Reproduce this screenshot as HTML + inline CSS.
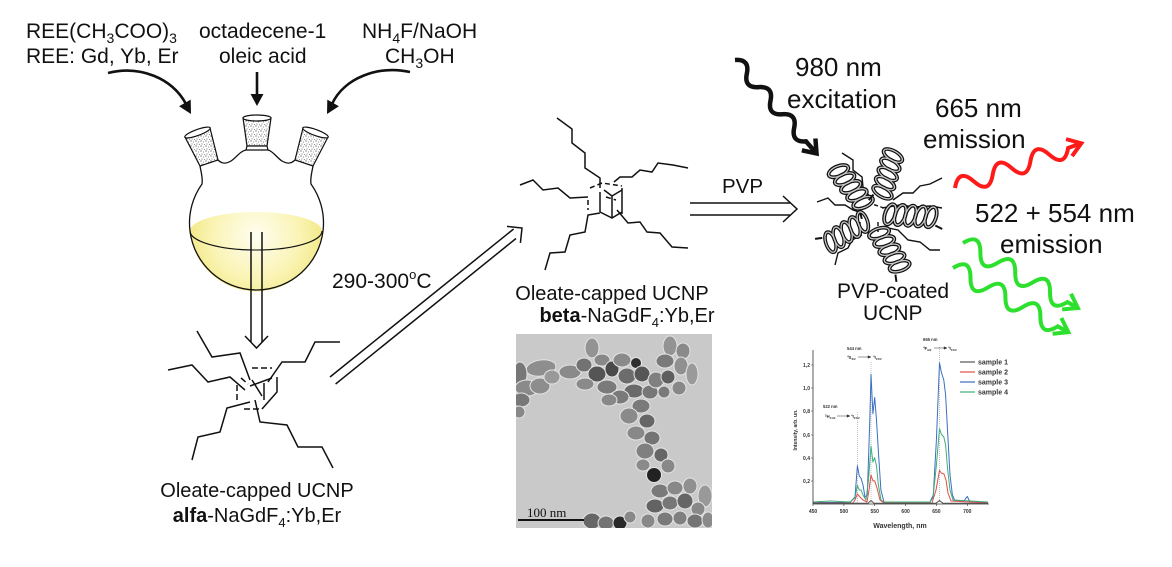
<!DOCTYPE html>
<html><head><meta charset="utf-8"><style>
html,body{margin:0;padding:0;background:#fff;width:1172px;height:567px;overflow:hidden}
svg{display:block}
</style></head><body>
<svg width="1172" height="567" viewBox="0 0 1172 567" xmlns="http://www.w3.org/2000/svg" font-family="'Liberation Sans', Arial, sans-serif">
<defs>
  <pattern id="dots" patternUnits="userSpaceOnUse" width="5" height="5">
    <rect width="5" height="5" fill="#fff"/>
    <circle cx="1" cy="1" r="0.6" fill="#444"/>
    <circle cx="3.5" cy="2" r="0.5" fill="#666"/>
    <circle cx="2" cy="4" r="0.55" fill="#555"/>
    <circle cx="4.5" cy="4.4" r="0.45" fill="#444"/>
  </pattern>
  <radialGradient id="liq" cx="256" cy="236" r="80" gradientUnits="userSpaceOnUse">
    <stop offset="0" stop-color="#fefdf0"/>
    <stop offset="0.55" stop-color="#faf4b4"/>
    <stop offset="1" stop-color="#efe272"/>
  </radialGradient>
  <clipPath id="fc"><circle cx="256" cy="225" r="66.5"/></clipPath>
  <clipPath id="tc"><rect x="516" y="334" width="196" height="194"/></clipPath>
  <g id="hx" fill="none">
    <g stroke="#111" stroke-width="3.8">
      <ellipse cx="4" cy="0" rx="5" ry="10.5" transform="rotate(15 4 0)"/>
      <ellipse cx="14" cy="0" rx="5" ry="10.5" transform="rotate(15 14 0)"/>
      <ellipse cx="24" cy="0" rx="5" ry="10.5" transform="rotate(15 24 0)"/>
      <ellipse cx="34" cy="0" rx="5" ry="10.5" transform="rotate(15 34 0)"/>
      <ellipse cx="44" cy="0" rx="5" ry="10.5" transform="rotate(15 44 0)"/>
    </g>
    <g stroke="#c8c8c8" stroke-width="1.3">
      <ellipse cx="4" cy="0" rx="5" ry="10.5" transform="rotate(15 4 0)"/>
      <ellipse cx="14" cy="0" rx="5" ry="10.5" transform="rotate(15 14 0)"/>
      <ellipse cx="24" cy="0" rx="5" ry="10.5" transform="rotate(15 24 0)"/>
      <ellipse cx="34" cy="0" rx="5" ry="10.5" transform="rotate(15 34 0)"/>
      <ellipse cx="44" cy="0" rx="5" ry="10.5" transform="rotate(15 44 0)"/>
    </g>
    <line x1="49" y1="8" x2="56" y2="11" stroke="#111" stroke-width="2"/>
  </g>
</defs>

<!-- ===== Top-left text ===== -->
<g font-size="21" fill="#111">
  <text x="26" y="38">REE(CH<tspan font-size="14" dy="5">3</tspan><tspan dy="-5">COO)</tspan><tspan font-size="14" dy="5">3</tspan></text>
  <text x="26" y="63">REE: Gd, Yb, Er</text>
  <text x="199" y="38">octadecene-1</text>
  <text x="219" y="63">oleic acid</text>
  <text x="362" y="38">NH<tspan font-size="14" dy="5">4</tspan><tspan dy="-5">F/NaOH</tspan></text>
  <text x="385" y="63">CH<tspan font-size="14" dy="5">3</tspan><tspan dy="-5">OH</tspan></text>
</g>

<!-- curved arrows -->
<g stroke="#111" stroke-width="2.6" fill="none">
  <path d="M108,73 C140,65 172,78 186,104"/>
  <path d="M410,72 C378,65 344,78 332,104"/>
  <path d="M257,72 V96"/>
</g>
<g fill="#111">
  <polygon points="191,114 190.7,99.6 179.1,106.2"/>
  <polygon points="327,114 327.3,99.6 338.9,106.2"/>
  <polygon points="250.5,94 263.5,94 257,106"/>
</g>

<!-- ===== Flask ===== -->
<g clip-path="url(#fc)">
  <ellipse cx="256" cy="231" rx="66" ry="19" fill="url(#liq)"/>
  <rect x="185" y="231" width="145" height="70" fill="url(#liq)"/>
</g>
<path d="M190,231 A66,19 0 0 0 322,231" fill="none" stroke="#111" stroke-width="1.1"/>
<g fill="none" stroke="#111" stroke-width="1.3">
  <path d="M200,166 C201,172 203,178 202,184 A67,67 0 1 0 311,184 C310,178 312,172 313,166"/>
  <path d="M218,160 C222,164 226,164 231,161 C236,158 240,151 246,150"/>
  <path d="M268,150 C273,151 277,158 282,161 C287,164 291,164 295,160"/>
</g>
<!-- stoppers -->
<g stroke="#111" stroke-width="1.2" fill="url(#dots)">
  <polygon points="185,137 210,128 218,160 200,166"/>
  <polygon points="328,137 303,128 295,160 313,166"/>
  <path d="M243,118 L247,146 L267,146 L271,118 Z"/>
  <path d="M247,146 L246,150 L268,150 L267,146 Z" fill="#fff"/>
</g>
<g stroke="#111" stroke-width="1.2" fill="#fff">
  <ellipse cx="197.5" cy="132.5" rx="13.5" ry="3" transform="rotate(-20 197.5 132.5)"/>
  <ellipse cx="315.5" cy="132.5" rx="13.5" ry="3" transform="rotate(20 315.5 132.5)"/>
  <ellipse cx="257" cy="118" rx="14" ry="3"/>
</g>
<!-- vertical double arrow -->
<g stroke="#111" stroke-width="1.5" fill="none">
  <path d="M251,232 V342 M262,232 V342"/>
  <path d="M245,336 L256.5,348 L268,336"/>
</g>

<text x="332" y="288" font-size="21" fill="#111">290-300<tspan font-size="13" dy="-9">o</tspan><tspan dy="9">C</tspan></text>

<!-- diagonal double arrow -->
<g stroke="#111" stroke-width="1.5" fill="none">
  <path d="M330,377 L513.6,229 M335.6,384 L516,238.5"/>
  <path d="M507,226.4 L522,228 L520.4,242.9"/>
</g>

<!-- ===== alfa molecule ===== -->
<g stroke="#111" stroke-width="1.5" fill="none" stroke-linejoin="miter">
  <polyline points="197,331 212,357 240,353 250,380"/>
  <polyline points="168,370 192,365 208,382 230,377 245,390"/>
  <polyline points="340,342 315,342 305,362 282,362 268,382"/>
  <polyline points="192,460 198,437 220,432 227,408 250,402"/>
  <polyline points="255,400 260,422 287,425 298,447 322,447 333,468"/>
  <path d="M252,368 H272 M237,385 V402 M244,409 H262 M241,378 L248,384" stroke-dasharray="6,3"/>
  <path d="M277,377 V392 L262,409 M250,386 L272,378 M252,380 L262,396 M264,383 V400"/>
</g>
<text x="257" y="497" font-size="20" fill="#111" text-anchor="middle">Oleate-capped UCNP</text>
<text x="257" y="522" font-size="20" fill="#111" text-anchor="middle"><tspan font-weight="bold">alfa</tspan>-NaGdF<tspan font-size="13" dy="5">4</tspan><tspan dy="-5">:Yb,Er</tspan></text>

<!-- ===== beta molecule ===== -->
<g stroke="#111" stroke-width="1.5" fill="none">
  <polyline points="557,118 572,129 572,143 585,153 585,168 600,178 600,188"/>
  <polyline points="688,168 673,165 658,163 652,172 640,170 632,177 620,177 614,182"/>
  <polyline points="520,185 533,180 543,190 558,188 570,198 588,197"/>
  <polyline points="545,270 550,253 565,252 570,235 585,232 588,215 600,213"/>
  <polyline points="617,210 628,223 640,222 647,232 660,233 672,247 688,248"/>
  <path d="M590,188 L602,183 L622,186 M588,200 V210 M606,197 L616,200" stroke-dasharray="5,3"/>
  <path d="M600,192 V212 M622,188 V214 M600,212 L612,218 L622,212 M612,196 V218 M604,190 L612,196 L622,190"/>
</g>
<text x="612" y="300" font-size="20" fill="#111" text-anchor="middle">Oleate-capped UCNP</text>
<text x="627" y="322" font-size="20" fill="#111" text-anchor="middle"><tspan font-weight="bold">beta</tspan>-NaGdF<tspan font-size="13" dy="5">4</tspan><tspan dy="-5">:Yb,Er</tspan></text>

<!-- PVP arrow -->
<text x="722" y="193" font-size="20.5" fill="#111">PVP</text>
<g stroke="#111" stroke-width="1.5" fill="none">
  <path d="M690,203 H790 M690,215 H790"/>
  <path d="M783,196 L797,209 L783,222"/>
</g>

<!-- ===== TEM image ===== -->
<rect x="516" y="334" width="196" height="194" fill="#c9c9c9"/>
<g clip-path="url(#tc)" stroke="#e4e4e4" stroke-width="1">
  <ellipse cx="541" cy="368" rx="15" ry="8" fill="#8e8e8e" transform="rotate(-8 541 368)"/>
  <ellipse cx="520" cy="374" rx="7" ry="12" fill="#777"/>
  <ellipse cx="527" cy="388" rx="12" ry="8" fill="#8a8a8a"/>
  <ellipse cx="521" cy="400" rx="9" ry="7" fill="#787878"/>
  <ellipse cx="540" cy="386" rx="10" ry="8" fill="#8d8d8d"/>
  <ellipse cx="552" cy="377" rx="8" ry="7" fill="#999"/>
  <ellipse cx="519" cy="412" rx="6" ry="6" fill="#888"/>
  <ellipse cx="592" cy="348" rx="7" ry="10" fill="#939393"/>
  <ellipse cx="570" cy="372" rx="11" ry="7" fill="#8a8a8a"/>
  <ellipse cx="584" cy="365" rx="8" ry="7" fill="#727272"/>
  <ellipse cx="597" cy="374" rx="9" ry="8" fill="#555"/>
  <ellipse cx="585" cy="384" rx="9" ry="6" fill="#8a8a8a"/>
  <ellipse cx="602" cy="360" rx="8" ry="6" fill="#888"/>
  <ellipse cx="612" cy="369" rx="7" ry="8" fill="#4a4a4a"/>
  <ellipse cx="607" cy="387" rx="10" ry="7" fill="#7a7a7a"/>
  <ellipse cx="622" cy="360" rx="9" ry="7" fill="#8a8a8a"/>
  <ellipse cx="627" cy="376" rx="9" ry="8" fill="#6c6c6c"/>
  <ellipse cx="636" cy="363" rx="5.5" ry="5.5" fill="#2e2e2e"/>
  <ellipse cx="642" cy="374" rx="8" ry="8" fill="#565656"/>
  <ellipse cx="634" cy="391" rx="10" ry="7" fill="#6a6a6a"/>
  <ellipse cx="650" cy="392" rx="8" ry="7" fill="#777"/>
  <ellipse cx="656" cy="380" rx="8" ry="8" fill="#808080"/>
  <ellipse cx="620" cy="397" rx="9" ry="7" fill="#7a7a7a"/>
  <ellipse cx="609" cy="400" rx="8" ry="6" fill="#888"/>
  <ellipse cx="670" cy="346" rx="7" ry="10" fill="#939393"/>
  <ellipse cx="683" cy="351" rx="7" ry="8" fill="#8a8a8a"/>
  <ellipse cx="665" cy="361" rx="9" ry="7" fill="#7a7a7a"/>
  <ellipse cx="681" cy="366" rx="7" ry="9" fill="#909090"/>
  <ellipse cx="692" cy="374" rx="6" ry="11" fill="#9a9a9a"/>
  <ellipse cx="668" cy="377" rx="7" ry="7" fill="#5e5e5e"/>
  <ellipse cx="679" cy="388" rx="7" ry="7" fill="#888"/>
  <ellipse cx="664" cy="392" rx="6" ry="6" fill="#7a7a7a"/>
  <ellipse cx="641" cy="406" rx="9" ry="7" fill="#7a7a7a"/>
  <ellipse cx="629" cy="416" rx="9" ry="8" fill="#8a8a8a"/>
  <ellipse cx="647" cy="421" rx="8" ry="7" fill="#666"/>
  <ellipse cx="636" cy="433" rx="9" ry="7" fill="#888"/>
  <ellipse cx="652" cy="438" rx="8" ry="7" fill="#747474"/>
  <ellipse cx="645" cy="451" rx="9" ry="8" fill="#808080"/>
  <ellipse cx="661" cy="455" rx="7" ry="7" fill="#666"/>
  <ellipse cx="643" cy="465" rx="7" ry="6" fill="#8a8a8a"/>
  <ellipse cx="668" cy="466" rx="7" ry="7" fill="#888"/>
  <ellipse cx="654" cy="475" rx="7.5" ry="7.5" fill="#222"/>
  <ellipse cx="660" cy="491" rx="9" ry="7" fill="#7a7a7a"/>
  <ellipse cx="675" cy="488" rx="8" ry="7" fill="#888"/>
  <ellipse cx="690" cy="486" rx="7" ry="8" fill="#909090"/>
  <ellipse cx="705" cy="496" rx="7" ry="11" fill="#999"/>
  <ellipse cx="655" cy="506" rx="9" ry="7" fill="#636363"/>
  <ellipse cx="670" cy="503" rx="8" ry="7" fill="#777"/>
  <ellipse cx="685" cy="501" rx="8" ry="8" fill="#666"/>
  <ellipse cx="698" cy="509" rx="7" ry="7" fill="#888"/>
  <ellipse cx="665" cy="519" rx="8" ry="7" fill="#7a7a7a"/>
  <ellipse cx="680" cy="518" rx="7" ry="7" fill="#808080"/>
  <ellipse cx="695" cy="521" rx="8" ry="7" fill="#747474"/>
  <ellipse cx="708" cy="520" rx="6" ry="8" fill="#8a8a8a"/>
  <ellipse cx="648" cy="521" rx="7" ry="7" fill="#888"/>
  <ellipse cx="592" cy="521" rx="9" ry="8" fill="#666"/>
  <ellipse cx="606" cy="523" rx="8" ry="7" fill="#747474"/>
  <ellipse cx="620" cy="523" rx="7" ry="7" fill="#2a2a2a"/>
  <ellipse cx="630" cy="517" rx="6" ry="6" fill="#888"/>
</g>
<text x="527" y="517" font-size="13" fill="#111" font-family="'Liberation Serif', serif">100 nm</text>
<line x1="518" y1="520" x2="584" y2="520" stroke="#111" stroke-width="2"/>

<!-- ===== PVP coated particle ===== -->
<g stroke="#111" stroke-width="1.4" fill="none">
  <polyline points="842,153 853,160 853,170 862,177 863,187 870,197"/>
  <polyline points="817,202 828,198 835,205 845,205 853,210 862,213"/>
  <polyline points="835,265 838,253 848,248 852,240 862,235"/>
  <polyline points="893,200 903,193 913,193 920,186 930,184 942,178"/>
  <polyline points="882,208 900,205 915,207 930,206 942,208"/>
  <polyline points="888,228 898,230 908,240 920,242 930,250 940,250"/>
  <path d="M862,208 L872,204 L884,208 M860,222 V230 M878,222 V232" stroke-dasharray="4,2.5"/>
</g>
<use href="#hx" transform="translate(836,168) rotate(52) scale(1.0,1)"/>
<use href="#hx" transform="translate(894,152) rotate(106) scale(0.95,1)"/>
<use href="#hx" transform="translate(886,214) rotate(4) scale(1.02,1)"/>
<use href="#hx" transform="translate(877,230) rotate(58) scale(0.97,1)"/>
<use href="#hx" transform="translate(866,220) rotate(148) scale(0.95,1)"/>
<text x="837" y="298" font-size="21" fill="#111">PVP-coated</text>
<text x="863" y="320" font-size="21" fill="#111">UCNP</text>

<!-- ===== wavy arrows ===== -->
<g fill="none" stroke-linecap="butt">
  <g transform="translate(735,60) rotate(48.9)" stroke="#111" stroke-width="4.5">
    <path d="M0,0 q9,-12 18,0 t18,0 t18,0 t18,0 t18,0 t18,0 L122,0"/>
    <path d="M112,-9 L124,0 L112,9"/>
  </g>
  <g transform="translate(955,188) rotate(-19.5)" stroke="#ff1a1a" stroke-width="4">
    <path d="M0,0 q10,-18 20,0 t20,0 t20,0 t20,0 t20,0 t20,0 L132,0"/>
    <path d="M121,-9 L134,0 L121,9"/>
  </g>
  <g transform="translate(963,243) rotate(29.5)" stroke="#2de02d" stroke-width="4">
    <path d="M0,0 q10,-18 20,0 t20,0 t20,0 t20,0 t20,0 t20,0 L130,0"/>
    <path d="M119,-9 L132,0 L119,9"/>
  </g>
  <g transform="translate(953,268) rotate(29.1)" stroke="#2de02d" stroke-width="4">
    <path d="M0,0 q10,-18 20,0 t20,0 t20,0 t20,0 t20,0 t20,0 L130,0"/>
    <path d="M119,-9 L132,0 L119,9"/>
  </g>
</g>

<g font-size="26" fill="#111">
  <text x="795" y="76">980 nm</text>
  <text x="787" y="108">excitation</text>
  <text x="935" y="117">665 nm</text>
  <text x="923" y="148">emission</text>
  <text x="975" y="222">522 + 554 nm</text>
  <text x="1000" y="253">emission</text>
</g>

<!-- ===== spectrum chart ===== -->
<g>
  <g stroke="#999" stroke-width="0.6" stroke-dasharray="1,1">
    <line x1="857.4" y1="412" x2="857.4" y2="503"/>
    <line x1="871" y1="362" x2="871" y2="503"/>
    <line x1="939.5" y1="347" x2="939.5" y2="503"/>
  </g>
  <g fill="none" stroke-width="1" stroke-linejoin="round">
    <polyline stroke="#3a6fbf" points="813,502.5 850,502.5 855,497 857.4,465.8 859.3,476 861.1,478.5 863,485 865,497 867.3,495 869.8,420 871,374.3 872.9,413.7 874.7,397.5 876.5,420 878.4,451.9 880.9,490 884,502 930,502 933.3,495 936.4,440 939.5,362.7 941.3,372 943.8,380 945.6,395 947.5,430 950,475 952.4,495 955,501 964,501 966,498 967.3,496.5 969,500 971,502 988,502"/>
    <polyline stroke="#3fae7a" points="813,502 830,501 850,502 855,498 857.4,485.5 859.3,490 861.1,490 863,495 866,500 868.5,480 871,446 872.9,462 874.7,457.7 876.5,466 878.4,485 881,500 884,502 930,502 933,498 936.4,465 939.5,428.7 941.3,434 943.8,437 945.6,445 947.5,468 950,490 953,500 970,501 988,502"/>
    <polyline stroke="#e0504a" points="813,503 853,503 855,500 857.4,494 860,497 863,500 867,502 869,490 871,475 873,481 874.7,480.8 877,488 880,500 884,503 932,503 936,490 939.5,470.4 941.3,473 944,474 946,480 948,493 951,501 988,503"/>
    <polyline stroke="#555" points="813,503.3 868,503.3 871,500.5 874,503.3 936,503.3 939.5,500.5 943,503.3 988,503.3"/>
  </g>
  <path d="M813,350 V504 H989" fill="none" stroke="#333" stroke-width="0.8"/>
  <g stroke="#333" stroke-width="0.6">
    <path d="M813,365 h-2 M813,388 h-2 M813,411 h-2 M813,435 h-2 M813,458 h-2 M813,481 h-2"/>
    <path d="M813,504 v2 M843.9,504 v2 M874.7,504 v2 M905.6,504 v2 M936.4,504 v2 M967.3,504 v2"/>
  </g>
  <g font-size="5" font-weight="bold" fill="#333" text-anchor="end">
    <text x="810" y="367">1,2</text>
    <text x="810" y="390">1,0</text>
    <text x="810" y="413">0,8</text>
    <text x="810" y="437">0,6</text>
    <text x="810" y="460">0,4</text>
    <text x="810" y="483">0,2</text>
  </g>
  <g font-size="5" font-weight="bold" fill="#333" text-anchor="middle">
    <text x="813" y="513">450</text>
    <text x="843.9" y="513">500</text>
    <text x="874.7" y="513">550</text>
    <text x="905.6" y="513">600</text>
    <text x="936.4" y="513">650</text>
    <text x="967.3" y="513">700</text>
  </g>
  <text x="900" y="528" font-size="7" font-weight="bold" fill="#333" text-anchor="middle">Wavelength, nm</text>
  <text transform="translate(797,430) rotate(-90)" font-size="5" font-weight="bold" fill="#333" text-anchor="middle">Intensity, arb. un.</text>
  <g stroke-width="1.2">
    <line x1="960" y1="362" x2="975" y2="362" stroke="#555"/>
    <line x1="960" y1="372" x2="975" y2="372" stroke="#e0504a"/>
    <line x1="960" y1="382" x2="975" y2="382" stroke="#3a6fbf"/>
    <line x1="960" y1="392" x2="975" y2="392" stroke="#3fae7a"/>
  </g>
  <g font-size="7" font-weight="bold" fill="#333">
    <text x="978" y="364.5">sample 1</text>
    <text x="978" y="374.5">sample 2</text>
    <text x="978" y="384.5">sample 3</text>
    <text x="978" y="394.5">sample 4</text>
  </g>
  <g font-size="4.2" font-weight="bold" fill="#333">
    <text x="923" y="341">655 nm</text>
    <text x="923" y="350"><tspan font-size="3" dy="-1.5">4</tspan><tspan dy="1.5">F</tspan><tspan font-size="3" dy="1">9/2</tspan></text>
    <text x="948" y="350"><tspan font-size="3" dy="-1.5">4</tspan><tspan dy="1.5">I</tspan><tspan font-size="3" dy="1">15/2</tspan></text>
    <text x="847" y="350">544 nm</text>
    <text x="847" y="359"><tspan font-size="3" dy="-1.5">4</tspan><tspan dy="1.5">S</tspan><tspan font-size="3" dy="1">3/2</tspan></text>
    <text x="873" y="359"><tspan font-size="3" dy="-1.5">4</tspan><tspan dy="1.5">I</tspan><tspan font-size="3" dy="1">15/2</tspan></text>
    <text x="823" y="408">522 nm</text>
    <text x="825" y="418"><tspan font-size="3" dy="-1.5">2</tspan><tspan dy="1.5">H</tspan><tspan font-size="3" dy="1">11/2</tspan></text>
    <text x="851" y="418"><tspan font-size="3" dy="-1.5">4</tspan><tspan dy="1.5">I</tspan><tspan font-size="3" dy="1">15/2</tspan></text>
  </g>
  <g stroke="#333" stroke-width="0.5" fill="#333">
    <line x1="934" y1="348" x2="945" y2="348"/><polygon points="947,348 944,346.8 944,349.2"/>
    <line x1="858" y1="357" x2="869" y2="357"/><polygon points="871,357 868,355.8 868,358.2"/>
    <line x1="837" y1="416" x2="848" y2="416"/><polygon points="850,416 847,414.8 847,417.2"/>
  </g>
</g>
</svg>
</body></html>
